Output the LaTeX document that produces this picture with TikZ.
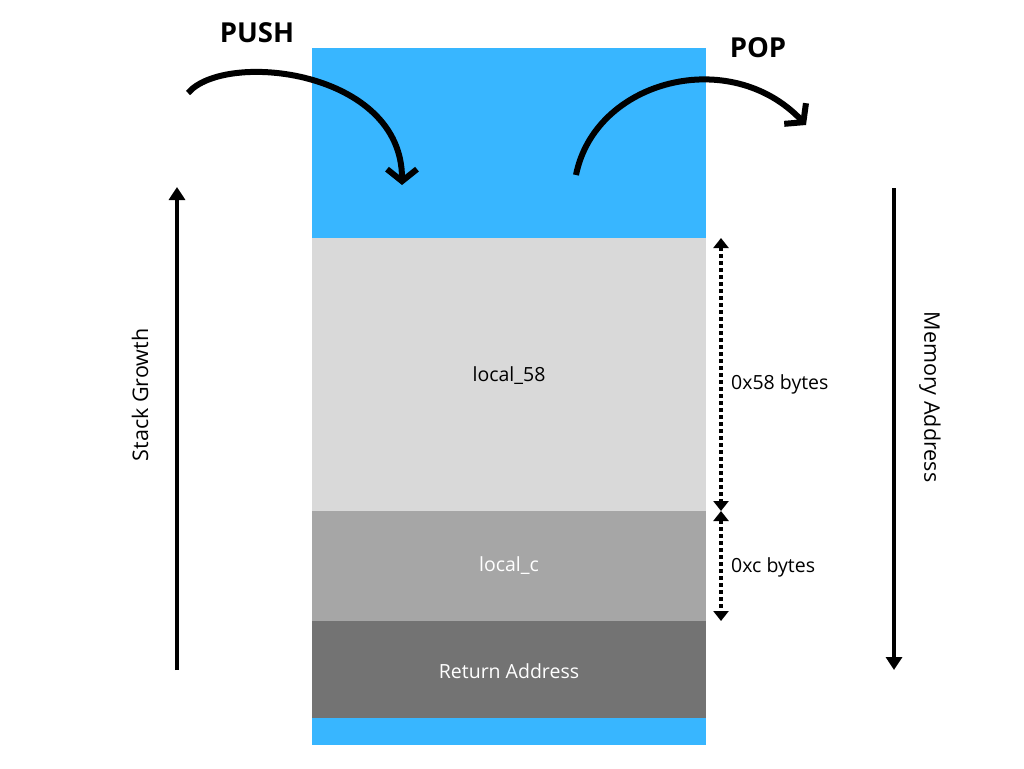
\documentclass[tikz,border=0pt]{standalone}
\usepackage{fontspec}
\setmainfont{Open Sans}
\usetikzlibrary{arrows.meta}
\definecolor{skyb}{HTML}{38B6FF}
\definecolor{g1}{HTML}{D9D9D9}
\definecolor{g2}{HTML}{A6A6A6}
\definecolor{g3}{HTML}{737373}
\tikzset{
  block/.style={draw=none,minimum width=394pt,inner sep=0pt,anchor=north west},
  lbl/.style={font=\fontsize{19.5}{23}\selectfont},
  side/.style={font=\fontsize{21.5}{25}\selectfont},
  axis/.style={line width=4pt,-{Triangle[width=16pt,length=13pt]}},
  dim/.style={line width=3.5pt,dash pattern=on 3.5pt off 3.5pt,{Triangle[width=15pt,length=10pt]}-{Triangle[width=15pt,length=10pt]}},
  curv/.style={line width=6pt,-{Straight Barb[length=12pt,width=30pt,line width=6pt]}},
  title/.style={font=\bfseries\fontsize{27.5}{32}\selectfont}
}
\begin{document}
\begin{tikzpicture}[x=1pt,y=-1pt]
\useasboundingbox (0,0) rectangle (1024,768);
\fill[white] (0,0) rectangle (1024,768);
\node[block,fill=skyb,minimum height=697pt] (stack) at (312,48) {};
\node[block,fill=g1,minimum height=273pt] (l58) at (312,238) {};
\node[block,fill=g2,minimum height=110pt] (lc) at (312,511) {};
\node[block,fill=g3,minimum height=97pt] (ret) at (312,621) {};
\node[lbl] (t58) at (509,376) {local\_58};
\node[lbl,text=white] (tc) at (509,566) {local\_c};
\node[lbl,text=white] (tr) at (509,671) {Return Address};
\coordinate (sgb) at (177,670);
\coordinate (sgt) at (177,187);
\draw[axis] (sgb) -- (sgt);
\node[side,rotate=90] (sg) at (140,395) {Stack Growth};
\coordinate (mat) at (894,188);
\coordinate (mab) at (894,670);
\draw[axis] (mat) -- (mab);
\node[side,rotate=-90] (ma) at (930,397) {Memory Address};
\coordinate (d1) at (721,238);
\coordinate (d2) at (721,511);
\coordinate (d3) at (721,621);
\draw[dim] (d1) -- (d2);
\draw[dim] (d2) -- (d3);
\node[lbl,anchor=west,inner sep=0pt] (b58) at (731,384) {0x58 bytes};
\node[lbl,anchor=west,inner sep=0pt] (bc) at (731,567) {0xc bytes};
\node[title] (push) at (257,33) {PUSH};
\node[title] (pop) at (758,48) {POP};
\coordinate (ps) at (188,93);
\coordinate (pe) at (402,185);
\draw[curv] (ps) .. controls (225,50) and (402,70) .. (pe);
\coordinate (os) at (576,175);
\coordinate (oe) at (806,125);
\draw[curv] (os) .. controls (595,80) and (730,45) .. (oe);
\end{tikzpicture}
\end{document}
